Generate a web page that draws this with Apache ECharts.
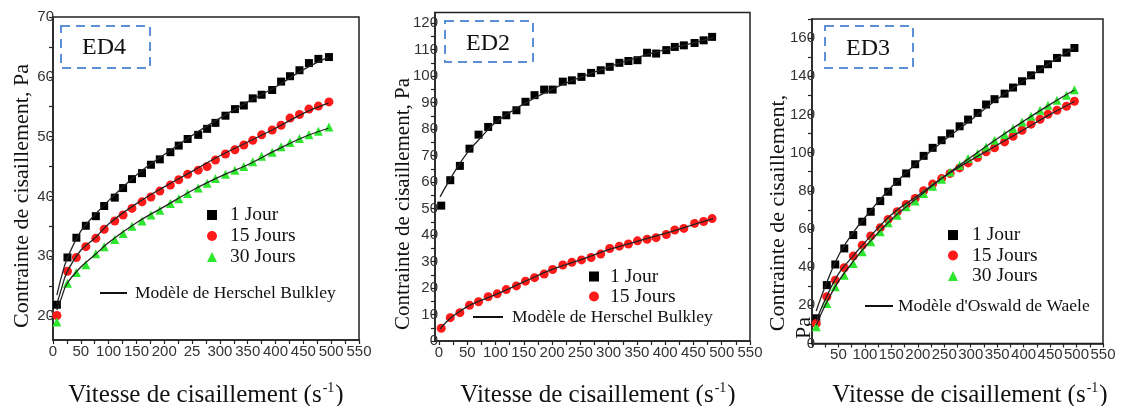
<!DOCTYPE html>
<html><head><meta charset="utf-8">
<script src="https://cdn.jsdelivr.net/npm/echarts@6.0.0/dist/echarts.min.js"></script>
<style>html,body{margin:0;padding:0;background:#fff}#c{width:1124px;height:406px}</style>
</head><body><div id="c"></div>
<script>
// ---------- ED4 ----------
const xED4 = [7, 26, 42, 59, 77, 92, 111, 126, 142, 160, 176, 192, 211, 226, 242, 261, 277, 292, 310, 327, 343, 359, 375, 394, 410, 426, 443, 460, 477, 496];
const ed4Jour1 = [21.9, 29.8, 33.1, 35.1, 36.7, 38.4, 39.8, 41.4, 42.9, 43.9, 45.3, 46.2, 47.4, 48.5, 49.6, 50.3, 51.3, 52.3, 53.5, 54.6, 55.2, 56.4, 57.0, 57.8, 59.2, 60.1, 61.1, 62.3, 63.0, 63.3];
const ed4Jours15 = [20.1, 27.5, 29.8, 31.6, 33.0, 34.5, 35.9, 36.9, 38.0, 39.1, 39.9, 40.9, 41.9, 42.8, 43.7, 44.4, 45.0, 46.1, 47.1, 47.8, 48.6, 49.4, 50.3, 51.1, 51.9, 53.1, 53.7, 54.6, 55.1, 55.8];
const ed4Jours30 = [19.0, 25.5, 27.3, 28.6, 30.4, 31.6, 32.8, 33.8, 35.0, 35.9, 36.9, 37.7, 38.8, 39.6, 40.5, 41.4, 42.2, 43.0, 43.7, 44.4, 45.0, 45.8, 46.7, 47.4, 48.3, 49.0, 49.7, 50.3, 50.9, 51.6];
const fitXED4 = [7, 15, 25, 50, 75, 100, 150, 200, 250, 300, 350, 400, 450, 495];
const ed4FitJour1 = [23.5, 26.5, 29.5, 34.2, 36.9, 39.3, 43.6, 47.0, 50.2, 53.1, 55.8, 58.3, 61.2, 63.3];
const ed4FitJours15 = [22.0, 24.5, 27.3, 31.0, 33.0, 35.4, 38.8, 41.6, 44.2, 46.8, 49.1, 51.4, 53.9, 55.6];
const ed4FitJours30 = [21.0, 23.0, 25.4, 28.2, 30.2, 32.3, 35.6, 38.3, 41.0, 43.3, 45.3, 47.7, 49.9, 51.4];
const ed4YLabels = [20, 30, 40, 50, 60, 70];
const ed4YTicks = [20, 25, 30, 35, 40, 45, 50, 55, 60, 65, 70];

// ---------- ED2 ----------
const xED2 = [4, 20, 37, 54, 70, 87, 103, 119, 137, 153, 169, 186, 201, 219, 235, 252, 269, 286, 302, 319, 335, 351, 368, 384, 402, 417, 433, 452, 468, 483];
const ed2Jour1 = [51.1, 60.7, 66.1, 72.6, 77.9, 80.8, 83.4, 85.2, 87.1, 90.3, 92.8, 94.9, 94.9, 97.9, 98.4, 99.7, 101.2, 102.2, 103.5, 105.0, 105.7, 106.0, 108.8, 108.5, 109.8, 111.0, 111.6, 112.5, 113.5, 114.8];
const ed2Jours15 = [4.8, 8.8, 10.7, 13.5, 14.8, 16.7, 17.8, 19.4, 20.8, 22.6, 23.9, 25.3, 27.0, 28.7, 29.7, 30.6, 31.5, 32.8, 34.9, 35.8, 36.6, 37.8, 38.4, 39.0, 40.2, 41.9, 42.5, 44.4, 45.1, 46.2];
const fitXED2 = [2, 10, 25, 50, 75, 100, 150, 200, 250, 300, 350, 400, 450, 485];
const ed2FitJour1 = [54.4, 57.5, 63.0, 71.0, 77.0, 82.5, 89.5, 95.0, 99.5, 103.5, 107.0, 110.0, 112.5, 114.5];
const ed2FitJours15 = [4.5, 6.5, 9.4, 13.0, 15.4, 17.5, 22.3, 27.0, 30.6, 34.5, 37.6, 40.6, 43.9, 46.2];
const ed2YLabels = [0, 10, 20, 30, 40, 50, 60, 70, 80, 90, 100, 110, 120];
const ed2YTicks = [0, 5, 10, 15, 20, 25, 30, 35, 40, 45, 50, 55, 60, 65, 70, 75, 80, 85, 90, 95, 100, 105, 110, 115, 120];

// ---------- ED3 ----------
const xED3 = [8, 28, 44, 61, 78, 95, 111, 129, 144, 161, 178, 195, 211, 228, 245, 261, 279, 295, 313, 329, 345, 364, 380, 397, 414, 431, 446, 463, 481, 496];
const ed3Jour1 = [13.2, 30.6, 41.4, 49.8, 56.8, 63.8, 69.0, 74.6, 79.5, 84.7, 89.1, 93.9, 98.3, 102.5, 106.5, 110.0, 113.8, 117.3, 120.8, 125.2, 128.0, 130.9, 134.1, 137.4, 140.5, 143.7, 146.3, 149.6, 152.4, 154.8];
const ed3Jours15 = [10.5, 24.5, 33.2, 39.7, 45.8, 51.5, 56.3, 60.6, 65.0, 69.0, 72.8, 76.0, 80.0, 83.5, 86.4, 89.1, 92.0, 94.6, 97.4, 100.4, 102.5, 105.6, 108.6, 111.7, 114.9, 117.5, 120.1, 122.2, 124.3, 126.9];
const ed3Jours30 = [8.8, 21.0, 29.7, 35.8, 41.9, 48.1, 53.3, 58.5, 63.2, 67.2, 71.6, 74.6, 78.6, 82.4, 86.1, 89.9, 93.4, 96.9, 99.5, 103.0, 106.5, 109.5, 112.6, 116.1, 119.1, 122.2, 124.8, 127.4, 130.1, 133.0];
const fitXED3 = [8, 25, 50, 75, 100, 150, 200, 250, 300, 350, 400, 450, 496];
const ed3FitJour1 = [17, 30, 46, 57, 66, 82, 95, 106.5, 117, 128, 137.5, 147, 155];
const ed3FitJours15 = [12, 23, 36.5, 45, 53, 67.5, 77.5, 87.5, 96, 104, 112, 120, 126.8];
const ed3FitJours30 = [9.5, 20, 32.5, 42, 50.5, 65, 76.5, 87.5, 97.6, 107.3, 116.5, 125.3, 132.8];
const ed3YLabels = [0, 20, 40, 60, 80, 100, 120, 140, 160];
const ed3YTicks = [0, 10, 20, 30, 40, 50, 60, 70, 80, 90, 100, 110, 120, 130, 140, 150, 160, 170];

// ---------- shared ----------
const xLabelsAll = [0, 50, 100, 150, 200, 250, 300, 350, 400, 450, 500, 550];
const xLabelsED3 = [50, 100, 150, 200, 250, 300, 350, 400, 450, 500, 550];
const xTicks = [0, 25, 50, 75, 100, 125, 150, 175, 200, 225, 250, 275, 300, 325, 350, 375, 400, 425, 450, 475, 500, 525, 550];
const nameJ1 = '1 Jour', nameJ15 = '15 Jours', nameJ30 = '30 Jours';
const nameHB = 'Modèle de Herschel Bulkley', nameOW = "Modèle d'Oswald de Waele";
const boxLabels = ['ED4', 'ED2', 'ED3'];

const SERIF = '"Liberation Serif", "Times New Roman", serif';
const SANS = '"Liberation Sans", Arial, sans-serif';
const AXC = '#222';

const pairs = (xs, ys) => xs.map((x, i) => [x, ys[i]]);

function xAxis(gi, min, max, labels, fmt) {
  return {
    type: 'value', gridIndex: gi, min: min, max: max,
    axisLine: { show: true, onZero: false, lineStyle: { color: AXC, width: 1.5 } },
    axisTick: { show: true, inside: false, length: 4, customValues: xTicks, lineStyle: { color: AXC, width: 1.2 } },
    axisLabel: { customValues: labels, margin: 4, color: '#333', fontFamily: SANS, fontSize: 15, formatter: fmt || (v => String(v)) },
    splitLine: { show: false }
  };
}
function yAxis(gi, min, max, labels, ticks, margin) {
  return {
    type: 'value', gridIndex: gi, min: min, max: max,
    axisLine: { show: true, onZero: false, lineStyle: { color: AXC, width: 1.5 } },
    axisTick: { show: true, inside: false, length: 4, customValues: ticks, lineStyle: { color: AXC, width: 1.2 } },
    axisLabel: { customValues: labels, margin: margin, color: '#333', fontFamily: SANS, fontSize: 15 },
    splitLine: { show: false }
  };
}
function scatter(name, gi, xs, ys, sym, color, size) {
  return { type: 'scatter', name: name, xAxisIndex: gi, yAxisIndex: gi, data: pairs(xs, ys),
    symbol: sym, symbolSize: size, itemStyle: { color: color, opacity: 1 }, z: 3 };
}
function fit(name, gi, xs, ys) {
  return { type: 'line', name: name, xAxisIndex: gi, yAxisIndex: gi, data: pairs(xs, ys), smooth: 0.4,
    symbol: 'none', lineStyle: { color: '#222', width: 1.3 }, itemStyle: { color: '#222' }, z: 4 };
}
const RED = '#ff1a1a', GREEN = '#2ee62e', BLACK = '#000';

function legendPts(names, left, top, gap, lh) {
  return { show: true, orient: 'vertical', left: left, top: top, padding: 0, itemGap: 0,
    itemWidth: 10, itemHeight: 10, selectedMode: false, data: names,
    formatter: n => '{g|}{t|' + n + '}',
    textStyle: { fontFamily: SERIF, fontSize: 19.5, color: '#111', lineHeight: lh,
      rich: { g: { width: gap }, t: { fontFamily: SERIF, fontSize: 19.5, color: '#111', lineHeight: lh } } } };
}
function legendFit(name, left, top, w, gap) {
  return { show: true, orient: 'vertical', left: left, top: top, padding: 0,
    itemWidth: w, itemHeight: 2, selectedMode: false, data: [{ name: name, icon: 'rect', itemStyle: { color: '#111' } }],
    formatter: n => '{g|}{t|' + n + '}',
    textStyle: { fontFamily: SERIF, fontSize: 17.5, color: '#111', lineHeight: 18,
      rich: { g: { width: gap }, t: { fontFamily: SERIF, fontSize: 17.5, color: '#111', lineHeight: 18 } } } };
}

function box(x, y, w, h, label, tx, ty) {
  return [
    { type: 'rect', shape: { x: x, y: y, width: w, height: h }, silent: true,
      style: { fill: 'none', stroke: '#5b8fd6', lineWidth: 2, lineDash: [9, 6] } },
    { type: 'text', x: tx, y: ty, silent: true,
      style: { text: label, font: '24px ' + SERIF, fill: '#111', align: 'center', verticalAlign: 'middle' } }
  ];
}
function ytitle(text, x, y, size) {
  return { type: 'text', x: x, y: y, rotation: Math.PI / 2, silent: true,
    style: { text: text, font: size + 'px ' + SERIF, fill: '#111', align: 'center', verticalAlign: 'middle' } };
}
function xtitle(x, y) {
  return { type: 'text', x: x, y: y, silent: true,
    style: { text: 'Vitesse de cisaillement (s{sup|-1})', font: '25px ' + SERIF, fill: '#111',
      align: 'center', verticalAlign: 'middle', lineHeight: 28,
      rich: { sup: { fontSize: 14, fontFamily: SERIF, verticalAlign: 'top', lineHeight: 28, padding: [0, 1, 12, 1] } } } };
}

const option = {
  animation: false,
  backgroundColor: '#fff',
  grid: [
    { left: 53, top: 17, width: 306, height: 323, show: true, borderColor: AXC, borderWidth: 1.5, backgroundColor: 'transparent' },
    { left: 435, top: 12.5, width: 315, height: 328.5, show: true, borderColor: AXC, borderWidth: 1.5, backgroundColor: 'transparent' },
    { left: 812, top: 19, width: 291, height: 324.5, show: true, borderColor: AXC, borderWidth: 1.5, backgroundColor: 'transparent' }
  ],
  xAxis: [
    xAxis(0, 0, 550, xLabelsAll, v => (v === 250 ? '25' : String(v))),
    xAxis(1, -7, 550, xLabelsAll),
    xAxis(2, 0, 550, xLabelsED3)
  ],
  yAxis: [
    yAxis(0, 16, 70, ed4YLabels, ed4YTicks, -1),
    yAxis(1, 0, 124, ed2YLabels, ed2YTicks, -3),
    yAxis(2, 0, 170, ed3YLabels, ed3YTicks, -3)
  ],
  legend: [
    legendPts([nameJ1, nameJ15, nameJ30], 207, 204.5, 8, 21),
    legendFit(nameHB, 100, 284, 27, 3),
    legendPts([nameJ1, nameJ15], 589, 266.5, 6, 19),
    legendFit(nameHB, 473, 308, 30, 4),
    legendPts([nameJ1, nameJ15, nameJ30], 948, 224.8, 9, 20.5),
    legendFit(nameOW, 865, 297, 28, 0)
  ],
  series: [
    scatter(nameJ1, 0, xED4, ed4Jour1, 'rect', BLACK, 8),
    scatter(nameJ15, 0, xED4, ed4Jours15, 'circle', RED, 9),
    scatter(nameJ30, 0, xED4, ed4Jours30, 'triangle', GREEN, 9),
    fit(nameHB, 0, fitXED4, ed4FitJour1),
    fit(nameHB, 0, fitXED4, ed4FitJours15),
    fit(nameHB, 0, fitXED4, ed4FitJours30),

    scatter(nameJ1, 1, xED2, ed2Jour1, 'rect', BLACK, 8),
    scatter(nameJ15, 1, xED2, ed2Jours15, 'circle', RED, 9),
    fit(nameHB, 1, fitXED2, ed2FitJour1),
    fit(nameHB, 1, fitXED2, ed2FitJours15),

    scatter(nameJ1, 2, xED3, ed3Jour1, 'rect', BLACK, 8),
    scatter(nameJ15, 2, xED3, ed3Jours15, 'circle', RED, 9),
    scatter(nameJ30, 2, xED3, ed3Jours30, 'triangle', GREEN, 9),
    fit(nameOW, 2, fitXED3, ed3FitJour1),
    fit(nameOW, 2, fitXED3, ed3FitJours15),
    fit(nameOW, 2, fitXED3, ed3FitJours30)
  ],
  graphic: [].concat(
    box(61, 26, 89, 42, boxLabels[0], 104, 48),
    box(445, 21, 88, 41, boxLabels[1], 488, 44),
    box(825, 26, 88, 42, boxLabels[2], 868, 49),
    [
      ytitle('Contrainte de cisaillement, Pa', 22, 196, 22),
      ytitle('Contrainte de cisaillement, Pa', 403, 204, 21),
      ytitle('Contrainte de cisaillement,', 778, 213, 22),
      ytitle('Pa', 804, 328, 22),
      xtitle(206, 395),
      xtitle(598, 395),
      xtitle(970, 395)
    ]
  )
};

const chart = echarts.init(document.getElementById('c'), null, { renderer: 'canvas' });
chart.setOption(option);
</script>
</body></html>
